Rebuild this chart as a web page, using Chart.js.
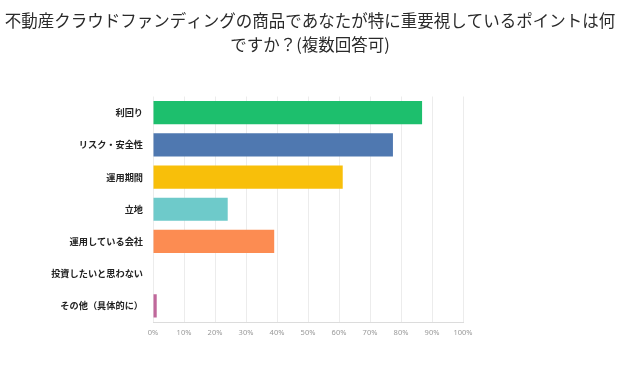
<!DOCTYPE html>
<html>
<head>
<meta charset="utf-8">
<script src="https://cdn.jsdelivr.net/npm/chart.js@4"></script>
<style>
  html, body { margin: 0; padding: 0; background: #fff; }
  #wrap { width: 620px; height: 366px; }
</style>
</head>
<body>
<div id="wrap"><canvas id="surveyChart"></canvas></div>
<script>
// Survey answers (multiple answers allowed), percent of respondents
const titleLines = [
  "不動産クラウドファンディングの商品であなたが特に重要視しているポイントは何",
  "ですか？(複数回答可)",
];
const categories = [
  "利回り",
  "リスク・安全性",
  "運用期間",
  "立地",
  "運用している会社",
  "投資したいと思わない",
  "その他（具体的に）",
];
const values = [86.8, 77.4, 61.2, 24.1, 39.1, 0, 1.2];
const barColors = ["#1dbf6d", "#4f78b0", "#f8bf0a", "#6ecaca", "#fc8c52", "#9e9e9e", "#c0689b"];

const ctx = document.getElementById("surveyChart").getContext("2d");
const surveyChart = new Chart(ctx, {
  type: "bar",
  data: {
    labels: categories,
    datasets: [
      {
        data: values,
        backgroundColor: barColors,
        borderWidth: 0,
        categoryPercentage: 0.72,
        barPercentage: 1,
      },
    ],
  },
  options: {
    indexAxis: "y",
    responsive: true,
    maintainAspectRatio: false,
    animation: false,
    layout: { padding: 0 },
    plugins: {
      legend: { display: false },
      tooltip: { enabled: false },
      title: {
        display: true,
        text: titleLines,
        color: "#2a2a2a",
        font: { family: "'Noto Sans CJK JP'", size: 16.5, weight: "normal", lineHeight: 1.5 },
        padding: { top: 8, bottom: 39 },
      },
    },
    scales: {
      x: {
        min: 0,
        max: 100,
        ticks: {
          stepSize: 10,
          color: "#999",
          padding: 6,
          font: { family: "'Noto Sans'", size: 7.5 },
          callback: (v) => v + "%",
        },
        grid: { color: "#ececec", drawTicks: false },
        border: { color: "#dcdcdc" },
        afterFit: (scale) => { scale.height = 44; },
      },
      y: {
        ticks: {
          color: "#222",
          padding: 10,
          font: { family: "'Noto Sans CJK JP'", size: 9.2, weight: "bold" },
        },
        grid: { display: false, drawTicks: false },
        border: { display: false },
        afterFit: (scale) => { scale.width = 153; },
      },
      // empty right axis, only keeps the blank space right of the plot
      spacer: {
        type: "category",
        position: "right",
        ticks: { display: false },
        grid: { display: false, drawTicks: false },
        border: { display: false },
        afterFit: (scale) => { scale.width = 157; },
      },
    },
  },
});
</script>
</body>
</html>
